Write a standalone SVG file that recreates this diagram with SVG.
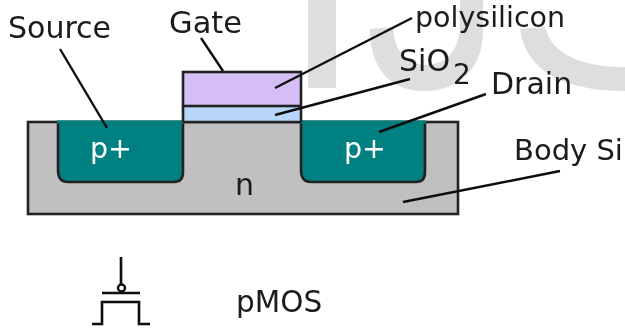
<svg xmlns="http://www.w3.org/2000/svg" width="625" height="328" viewBox="0 0 625 328">
<style>
.t{font-family:"DejaVu Sans",sans-serif;font-size:29.500px;fill:#1a1a1a}
.w{fill:#fff;font-size:28.500px}
.l{fill:none;stroke:#111;stroke-width:2.4}
.o{stroke:#222;stroke-width:2.6}
.wm{fill:#dedede}
.teal{stroke:#008080;stroke-width:2.800;fill:none}
</style>
<defs><filter id="soft" filterUnits="userSpaceOnUse" x="0" y="0" width="625" height="328"><feGaussianBlur stdDeviation="0.5"/></filter></defs>
<rect width="625" height="328" fill="#fff"/>
<g id="watermark">
<rect class="wm" x="308" y="0" width="28" height="88"/>
<path class="wm" d="M370 29L393 27C394 46 402 64 425 65C448 65 460 48 460 24V0H483V30C483 68 460 91 424 91C388 91 370 66 370 29Z"/>
<path class="wm" d="M520 29L545 27C550 50 575 67 625 67V91C565 91 526 72 520 29Z"/>
</g>
<g filter="url(#soft)">
<g id="body"><rect class="o" x="28" y="122" width="430" height="92" fill="#c0c0c0"/></g>
<g id="source"><path class="o" d="M58 122V170Q58 182 68 182H174Q183 182 183 172V122Z" fill="#008080"/><path class="teal" d="M57 122H184"/><text class="t w" x="90" y="158">p+</text></g>
<g id="drain"><path class="o" d="M301 122V170Q301 182 311 182H416Q425 182 425 172V122Z" fill="#008080"/><path class="teal" d="M300 122H426"/><text class="t w" x="344" y="158">p+</text></g>
<g id="oxide"><rect x="183" y="106" width="118" height="16" fill="#b8d6fa"/><path class="o" d="M183 106V122M301 106V122M183 122H301" fill="none"/></g>
<g id="polysilicon"><rect class="o" x="183" y="72" width="118" height="34" fill="#d5bef5"/></g>
<g id="connectors">
<path class="l" d="M60 49L107 128M201 38L223 71M412 18L275 88M410 79L275 115M486 94L379 132M560 171L403 202"/>
</g>
<g id="labels">
<text class="t" x="8" y="38" style="font-size:30px">Source</text>
<text class="t" x="169" y="33" style="font-size:30.500px">Gate</text>
<text class="t" x="415" y="27" style="font-size:28.500px">polysilicon</text>
<text class="t" x="399" y="71" style="font-size:30px">SiO</text>
<text class="t" x="453" y="84" style="font-size:28px">2</text>
<text class="t" x="491" y="94" style="font-size:30px">Drain</text>
<text class="t" x="514" y="160" style="font-size:29px">Body Si</text>
<text class="t" x="235" y="195" style="font-size:30px">n</text>
<text class="t" x="236" y="312">pMOS</text>
</g>
<g id="symbol" fill="none" stroke="#111" stroke-width="2.600">
<path d="M121 257V285M102 293H140M92 324H102V302H139V324H150"/>
<circle cx="121.500" cy="288" r="3.500" stroke-width="2.400"/>
</g>
</g>
</svg>
